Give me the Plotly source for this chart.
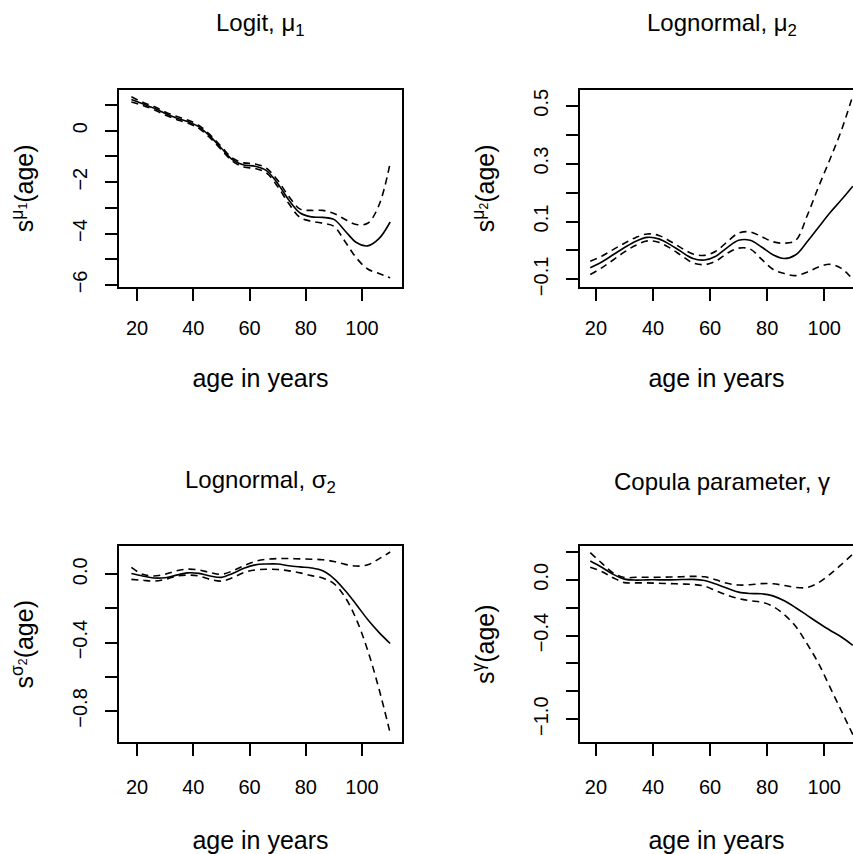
import plotly.graph_objects as go

ages = [18, 22, 26, 30, 34, 38, 42, 46, 50, 54, 58, 62, 66, 70, 74, 78, 82, 86, 90, 94, 98, 102, 106, 110]

# Panel 1: Logit, mu1
mu1_fit = [1.22, 1.05, 0.88, 0.67, 0.50, 0.36, 0.15, -0.22, -0.68, -1.13, -1.33, -1.38, -1.55, -2.05, -2.70, -3.20, -3.35, -3.37, -3.45, -3.90, -4.35, -4.48, -4.20, -3.55]
mu1_up = [1.32, 1.11, 0.94, 0.73, 0.56, 0.42, 0.21, -0.16, -0.62, -1.07, -1.25, -1.29, -1.46, -1.93, -2.56, -3.05, -3.10, -3.10, -3.22, -3.45, -3.65, -3.60, -2.90, -1.25]
mu1_lo = [1.12, 0.99, 0.82, 0.61, 0.44, 0.30, 0.09, -0.28, -0.74, -1.19, -1.41, -1.47, -1.64, -2.17, -2.84, -3.38, -3.52, -3.60, -3.72, -4.32, -4.95, -5.38, -5.55, -5.72]

# Panel 2: Lognormal, mu2
mu2_fit = [-0.060, -0.040, -0.015, 0.010, 0.032, 0.045, 0.040, 0.020, -0.005, -0.028, -0.033, -0.020, 0.010, 0.035, 0.035, 0.012, -0.015, -0.028, -0.015, 0.030, 0.080, 0.130, 0.175, 0.222]
mu2_up = [-0.037, -0.020, 0.003, 0.025, 0.045, 0.057, 0.052, 0.032, 0.008, -0.012, -0.017, -0.003, 0.030, 0.060, 0.064, 0.048, 0.030, 0.025, 0.035, 0.120, 0.220, 0.315, 0.415, 0.535]
mu2_lo = [-0.083, -0.060, -0.033, -0.005, 0.018, 0.033, 0.028, 0.008, -0.018, -0.043, -0.049, -0.037, -0.010, 0.008, 0.005, -0.030, -0.065, -0.080, -0.087, -0.075, -0.057, -0.048, -0.062, -0.100]

# Panel 3: Lognormal, sigma2
sg2_fit = [0.005, -0.010, -0.022, -0.020, -0.005, 0.008, 0.005, -0.010, -0.018, 0.005, 0.035, 0.055, 0.060, 0.060, 0.050, 0.043, 0.037, 0.020, -0.025, -0.095, -0.178, -0.265, -0.340, -0.405]
sg2_up = [0.040, 0.000, -0.010, 0.000, 0.020, 0.030, 0.025, 0.010, 0.000, 0.020, 0.050, 0.075, 0.088, 0.092, 0.092, 0.090, 0.088, 0.085, 0.075, 0.058, 0.048, 0.055, 0.090, 0.130]
sg2_lo = [-0.030, -0.035, -0.040, -0.030, -0.010, -0.005, -0.010, -0.030, -0.040, -0.020, 0.010, 0.025, 0.029, 0.028, 0.020, 0.008, -0.008, -0.022, -0.055, -0.135, -0.265, -0.445, -0.670, -0.930]

# Panel 4: Copula parameter, gamma
gm_fit = [0.135, 0.090, 0.040, 0.005, -0.002, 0.000, 0.000, 0.000, 0.002, 0.003, -0.005, -0.030, -0.060, -0.088, -0.098, -0.100, -0.115, -0.150, -0.200, -0.255, -0.310, -0.362, -0.410, -0.470]
gm_up = [0.195, 0.120, 0.050, 0.017, 0.018, 0.018, 0.018, 0.020, 0.022, 0.025, 0.022, 0.000, -0.025, -0.037, -0.035, -0.027, -0.028, -0.040, -0.055, -0.055, -0.020, 0.040, 0.110, 0.185]
gm_lo = [0.090, 0.060, 0.015, -0.020, -0.022, -0.022, -0.025, -0.027, -0.030, -0.033, -0.045, -0.078, -0.110, -0.135, -0.150, -0.160, -0.190, -0.250, -0.335, -0.460, -0.600, -0.770, -0.940, -1.110]

titles = ["Logit, μ<sub>1</sub>", "Lognormal, μ<sub>2</sub>", "Lognormal, σ<sub>2</sub>", "Copula parameter, γ"]
ylabels = ["s<sup>μ<sub>1</sub></sup>(age)", "s<sup>μ<sub>2</sub></sup>(age)", "s<sup>σ<sub>2</sub></sup>(age)", "s<sup>γ</sup>(age)"]
xlabel = "age in years"
xtick_vals = [20, 40, 60, 80, 100]

ytick_vals = [
    [-6, -5, -4, -3, -2, -1, 0, 1],
    [-0.1, 0.0, 0.1, 0.2, 0.3, 0.4, 0.5],
    [-0.8, -0.6, -0.4, -0.2, 0.0],
    [-1.0, -0.8, -0.6, -0.4, -0.2, 0.0, 0.2],
]
ytick_text = [
    ["−6", "", "−4", "", "−2", "", "0", ""],
    ["−0.1", "", "0.1", "", "0.3", "", "0.5"],
    ["−0.8", "", "−0.4", "", "0.0"],
    ["−1.0", "", "", "−0.4", "", "0.0", ""],
]

series = [
    (mu1_fit, mu1_up, mu1_lo),
    (mu2_fit, mu2_up, mu2_lo),
    (sg2_fit, sg2_up, sg2_lo),
    (gm_fit, gm_up, gm_lo),
]

W, H = 853, 854
FONT = "Liberation Sans, Arial, Helvetica, sans-serif"

# panel boxes in pixels: (left, right, top, bottom)
boxes = [
    (119, 402, 90, 289),
    (580, 853, 90, 289),
    (119, 402, 551.7, 750),
    (580, 853, 551.7, 750),
]
xranges = [[13.6, 114.2], [14.4, 110.07], [13.6, 114.2], [14.4, 110.07]]
yranges = [[-6.065, 1.588], [-0.125, 0.5546], [-0.983, 0.164], [-1.165, 0.241]]
title_pos = [(260, 24), (721.7, 24), (260, 486), (721.7, 486)]
xstand = [32, 32, 34, 34]
xtstand = [10, 10, 14, 14]

fig = go.Figure()
layout = dict(
    width=W, height=H,
    margin=dict(l=0, r=0, t=0, b=0),
    paper_bgcolor="white", plot_bgcolor="white",
    showlegend=False,
    font=dict(family=FONT, color="black"),
    annotations=[],
)

for i in range(4):
    xa = "x" if i == 0 else f"x{i+1}"
    ya = "y" if i == 0 else f"y{i+1}"
    fit, up, lo = series[i]
    for vals, dash in ((fit, "solid"), (up, "7px,5px"), (lo, "7px,5px")):
        fig.add_trace(go.Scatter(
            x=ages, y=vals, mode="lines", xaxis=xa, yaxis=ya,
            line=dict(color="black", width=1.6, dash=dash, shape="spline", smoothing=1.0),
            hoverinfo="skip",
        ))
    l, r, t, b = boxes[i]
    right_panel = i in (1, 3)
    xkey = "xaxis" if i == 0 else f"xaxis{i+1}"
    ykey = "yaxis" if i == 0 else f"yaxis{i+1}"
    layout[xkey] = dict(
        domain=[l / W, r / W], anchor=ya, range=xranges[i],
        showgrid=False, zeroline=False,
        showline=True, linecolor="black", linewidth=1.8, mirror=True,
        ticks="outside", ticklen=12, tickwidth=1.5, tickcolor="black",
        tickvals=xtick_vals, ticktext=[str(v) for v in xtick_vals],
        tickfont=dict(size=20, family=FONT, color="black"),
        ticklabelstandoff=xtstand[i],
        title=dict(text=xlabel, font=dict(size=25, family=FONT, color="black"), standoff=xstand[i]),
    )
    layout[ykey] = dict(
        domain=[1 - b / H, 1 - t / H], anchor=xa, range=yranges[i],
        showgrid=False, zeroline=False,
        showline=True, linecolor="black", linewidth=1.8, mirror=(not right_panel),
        ticks="outside", ticklen=12, tickwidth=1.5, tickcolor="black",
        tickvals=ytick_vals[i], ticktext=ytick_text[i], tickangle=-90,
        tickfont=dict(size=20, family=FONT, color="black"),
        ticklabelstandoff=10,
        title=dict(text=ylabels[i], font=dict(size=25, family=FONT, color="black"), standoff=28),
    )
    tx, ty = title_pos[i]
    layout["annotations"].append(dict(
        text=titles[i], x=tx / W, y=1 - ty / H, xref="paper", yref="paper",
        xanchor="center", yanchor="middle", showarrow=False,
        font=dict(size=24, family=FONT, color="black"),
    ))

fig.update_layout(**layout)
fig.write_html("out.html")
